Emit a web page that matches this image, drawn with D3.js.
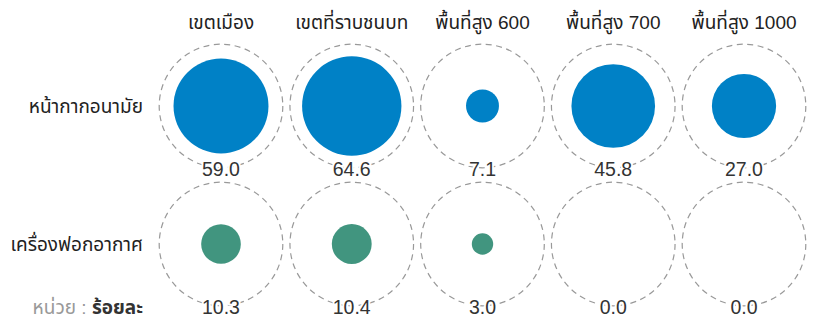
<!DOCTYPE html>
<html>
<head>
<meta charset="utf-8">
<script src="https://cdn.jsdelivr.net/npm/d3@7/dist/d3.min.js"></script>
<style>
  html, body { margin: 0; padding: 0; background: #fff; }
  svg { display: block; font-family: "Liberation Sans", "Noto Sans Thai", sans-serif; }
</style>
</head>
<body>
<svg id="chart" width="817" height="322"></svg>
<script>
// Areas (columns) and items (rows)
const areas = ["เขตเมือง", "เขตที่ราบชนบท", "พื้นที่สูง 600", "พื้นที่สูง 700", "พื้นที่สูง 1000"];
const items = ["หน้ากากอนามัย", "เครื่องฟอกอากาศ"];
const itemColors = ["#0081C6", "#41957F"];

// Share of households (%) per item, one array per row
const maskValues = [59.0, 64.6, 7.1, 45.8, 27.0];
const purifierValues = [10.3, 10.4, 3.0, 0.0, 0.0];
const seriesValues = [maskValues, purifierValues];

const unitLabel = "หน่วย : ";
const unitValue = "ร้อยละ";

const svg = d3.select("#chart");

const x = d3.scalePoint().domain(areas).range([221, 744]);
const y = d3.scalePoint().domain(items).range([106, 244]);
// Circle area proportional to percentage; the dashed ring marks 100%
const r = d3.scaleSqrt().domain([0, 100]).range([0, 61.8]);

// Column headers
svg.append("g").selectAll("text")
  .data(areas)
  .join("text")
  .attr("x", d => x(d))
  .attr("y", 29)
  .attr("text-anchor", "middle")
  .attr("font-size", 19)
  .attr("fill", "#222")
  .text(d => d);

// Row labels
svg.append("g").selectAll("text")
  .data(items)
  .join("text")
  .attr("x", 143)
  .attr("y", d => y(d) + 6.5)
  .attr("text-anchor", "end")
  .attr("font-size", 19)
  .attr("fill", "#222")
  .text(d => d);

// Cells
const cells = [];
items.forEach((item, i) => {
  areas.forEach((area, j) => {
    cells.push({ item, area, value: seriesValues[i][j], color: itemColors[i] });
  });
});

const g = svg.append("g");

g.selectAll("circle.ring")
  .data(cells)
  .join("circle")
  .attr("class", "ring")
  .attr("cx", d => x(d.area))
  .attr("cy", d => y(d.item))
  .attr("r", r(100))
  .attr("fill", "none")
  .attr("stroke", "#999")
  .attr("stroke-width", 1.2)
  .attr("stroke-dasharray", "6,4.5");

g.selectAll("circle.dot")
  .data(cells)
  .join("circle")
  .attr("class", "dot")
  .attr("cx", d => x(d.area))
  .attr("cy", d => y(d.item))
  .attr("r", d => r(d.value))
  .attr("fill", d => d.color);

g.selectAll("text.val")
  .data(cells)
  .join("text")
  .attr("class", "val")
  .attr("x", d => x(d.area))
  .attr("y", d => y(d.item) + 69.5)
  .attr("text-anchor", "middle")
  .attr("font-size", 19.5)
  .attr("fill", "#333")
  .attr("stroke", "#fff")
  .attr("stroke-width", 4)
  .attr("paint-order", "stroke")
  .text(d => d3.format(".1f")(d.value));

// Unit note
const unit = svg.append("text")
  .attr("x", 143)
  .attr("y", 314)
  .attr("text-anchor", "end")
  .attr("font-size", 19);
unit.append("tspan").attr("fill", "#999").text(unitLabel);
unit.append("tspan").attr("fill", "#333").attr("font-weight", "bold").text(unitValue);
</script>
</body>
</html>
